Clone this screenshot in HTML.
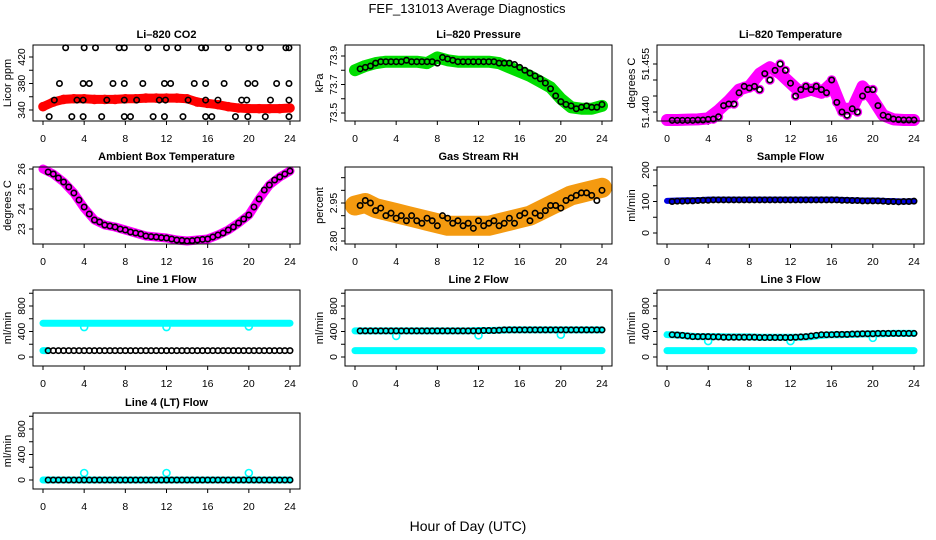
<!DOCTYPE html>
<html><head><meta charset="utf-8"><style>
body{margin:0;background:#fff}
svg{display:block;font-family:"Liberation Sans",sans-serif}
</style></head><body>
<svg id="c" width="936" height="540" viewBox="0 0 936 540">
<text x="467" y="13" font-size="13" text-anchor="middle">FEF_131013  Average Diagnostics</text>
<text x="468" y="531" font-size="14" text-anchor="middle">Hour of Day (UTC)</text>
</svg>
<script>
// ---------- data ----------
const hourly = [0,1,2,3,4,5,6,7,8,9,10,11,12,13,14,15,16,17,18,19,20,21,22,23,24];
const xTicks = [0,4,8,12,16,20,24];

const co2Band = [345,352,356,357,357,356,356,356,357,357,358,358,358,358,357,352,350,348,345,343,342,342,342,342,343];
const co2PtHours = [2.2,4,5.1,7.4,7.9,10.2,12,13.1,15.4,15.8,18,20,21.1,23.6,23.9, 1.6,3.9,4.5,6.8,7.9,9.7,11.8,12.4,14.7,15.8,17.6,19.9,20.6,22.7,23.9, 1.1,3.3,3.9,6.2,7.9,9.1,11.3,11.9,14.1,15.8,17,19.3,19.8,22.1,23.9, 0.6,2.8,3.9,5.7,7.9,8.5,10.7,11.8,13.6,15.8,16.4,18.7,19.9,21.6,23.9];
const co2PtValues = [434,434,434,434,434,434,434,434,434,434,434,434,434,434,434, 380,380,380,380,380,380,380,380,380,380,380,380,380,380,380, 355,355,355,355,355,355,355,355,355,355,355,355,355,355,355, 330,330,330,330,330,330,330,330,330,330,330,330,330,330,330];

const presBand = [73.80,73.83,73.85,73.86,73.86,73.86,73.86,73.85,73.89,73.87,73.86,73.86,73.86,73.86,73.85,73.82,73.79,73.76,73.72,73.68,73.60,73.54,73.53,73.53,73.55];
const presMean = [73.81,73.82,73.83,73.85,73.86,73.86,73.86,73.86,73.86,73.87,73.86,73.86,73.86,73.86,73.86,73.85,73.89,73.88,73.87,73.86,73.86,73.86,73.86,73.86,73.86,73.86,73.86,73.85,73.85,73.85,73.84,73.82,73.80,73.78,73.76,73.74,73.71,73.67,73.62,73.58,73.56,73.55,73.53,73.54,73.55,73.54,73.54,73.56];

const tempBand = [51.4375,51.4375,51.4376,51.4377,51.4380,51.4405,51.4435,51.4470,51.4480,51.4520,51.4540,51.4520,51.4490,51.4460,51.4470,51.4460,51.4490,51.4410,51.4410,51.4480,51.4440,51.4390,51.4377,51.4375,51.4375];
const tempMean = [51.4374,51.4374,51.4374,51.4374,51.4374,51.4375,51.4375,51.4377,51.4378,51.4385,51.4420,51.4425,51.4425,51.4460,51.4480,51.4475,51.4480,51.4470,51.4520,51.4500,51.4530,51.4550,51.4530,51.4490,51.4450,51.4470,51.4480,51.4470,51.4480,51.4470,51.4460,51.4500,51.4430,51.4400,51.4390,51.4410,51.4400,51.4450,51.4470,51.4470,51.4420,51.4390,51.4385,51.4378,51.4376,51.4375,51.4375,51.4375];

const ambBand = [26,25.75,25.35,24.8,24.05,23.45,23.2,23.1,22.95,22.8,22.65,22.6,22.55,22.45,22.4,22.45,22.5,22.7,22.95,23.3,23.7,24.5,25.2,25.6,25.9];
const ambMean = [25.85,25.75,25.55,25.35,25.1,24.8,24.45,24.1,23.75,23.45,23.35,23.2,23.15,23.1,23.0,22.95,22.85,22.8,22.75,22.65,22.62,22.6,22.57,22.55,22.5,22.45,22.43,22.4,22.42,22.45,22.48,22.5,22.6,22.7,22.8,22.95,23.1,23.3,23.5,23.7,24.1,24.5,24.95,25.2,25.45,25.6,25.75,25.9];

const rhBand = [2.94,2.95,2.93,2.92,2.91,2.90,2.89,2.88,2.87,2.86,2.86,2.86,2.86,2.86,2.87,2.88,2.89,2.90,2.92,2.94,2.96,2.98,2.99,3.00,3.01];
const rhMean = [2.94,2.96,2.95,2.92,2.93,2.90,2.91,2.89,2.90,2.88,2.90,2.88,2.87,2.89,2.88,2.86,2.90,2.89,2.87,2.88,2.86,2.87,2.85,2.88,2.86,2.87,2.88,2.86,2.87,2.89,2.87,2.90,2.91,2.88,2.91,2.90,2.92,2.94,2.94,2.93,2.96,2.97,2.98,2.99,2.99,2.98,2.96,3.00];

const sfBand = [102,103,104,104,106,106,106,106,106,106,106,106,106,106,106,106,106,105,104,103,103,102,101,100,101];
const sfMean = [100,101,101,102,102,103,104,104,105,105,105,105,105,105,105,105,105,105,105,105,105,105,105,105,105,105,105,105,105,105,105,105,105,104,104,103,103,102,102,102,102,101,100,100,99,100,100,101];

const dipHours = [4,12,20];

const l1Cyan = [530,530,530,530,530,530,530,530,530,530,530,530,530,530,530,530,530,530,530,530,530,530,530,530,530];
const l1CyanLow = [100,100];
const l1Dips = [470,470,480];
const l1Mean = [100,100,100,100,100,100,100,100,100,100,100,100,100,100,100,100,100,100,100,100,100,100,100,100,100,100,100,100,100,100,100,100,100,100,100,100,100,100,100,100,100,100,100,100,100,100,100,100];

const l2Cyan = [410,410,410,410,410,410,410,410,410,410,410,410,415,415,420,425,425,425,425,425,425,425,425,425,425];
const l2CyanLow = [100,100,100,100,100,100,100,100,100,100,100,100,100,100,100,100,100,100,100,100,100,100,100,100,100];
const l2Dips = [330,340,350];
const l2Mean = [410,410,410,410,410,410,410,410,410,410,410,410,410,410,410,410,410,410,410,410,410,410,410,410,415,415,415,420,425,425,425,425,425,425,425,425,425,425,425,425,425,425,425,425,425,425,425,425];

const l3Cyan = [350,345,330,320,320,320,315,315,315,310,310,310,310,310,320,340,350,350,355,360,365,365,370,370,370];
const l3CyanLow = [100,100,100,100,100,100,100,100,100,100,100,100,100,100,100,100,100,100,100,100,100,100,100,100,100];
const l3Dips = [250,250,300];
const l3Mean = [350,345,340,330,320,320,320,320,315,315,310,310,310,310,310,310,310,305,305,305,305,305,305,305,310,315,320,330,340,350,350,350,355,355,355,360,360,365,365,365,370,370,370,370,370,370,370,370];

const l4Cyan = [0,0,0,0,0,0,0,0,0,0,0,0,0,0,0,0,0,0,0,0,0,0,0,0,0];
const l4Dips = [110,110,110];
const l4Mean = [0,0,0,0,0,0,0,0,0,0,0,0,0,0,0,0,0,0,0,0,0,0,0,0,0,0,0,0,0,0,0,0,0,0,0,0,0,0,0,0,0,0,0,0,0,0,0,0];

// ---------- drawing ----------
const svg = document.getElementById('c');
const NS = 'http://www.w3.org/2000/svg';
const COLX = [43,355,667];
const ROWY = [[45,121],[167,244],[290,366],[413,489]];
const HPX = 247/24;
function mk(tag, attrs, parent){const e=document.createElementNS(NS,tag);for(const k in attrs)e.setAttribute(k,attrs[k]);(parent||svg).appendChild(e);return e;}

function panel(col,row,slug,title,ylab,vA,pA,vB,pB,ticks,labels){
  const g = mk('g',{});
  
  
  const x0 = COLX[col], top = ROWY[row][0], bot = ROWY[row][1];
  const left = x0-10, right = x0+257;
  const sx = h => x0 + h*HPX;
  const sy = v => pA + (v-vA)*(pB-pA)/(vB-vA);
  const t = mk('text',{x:(left+right)/2,y:top-7,'font-size':11,'font-weight':'bold','text-anchor':'middle'},g);
  t.textContent = title;
  
  
  const yl = mk('text',{x:0,y:0,'font-size':11,'text-anchor':'middle',transform:`translate(${left-22},${(top+bot)/2}) rotate(-90)`},g);
  yl.textContent = ylab;
  
  
  const xa = mk('g',{stroke:'#000','stroke-width':1},g);
  
  
  xTicks.forEach(h=>{
    mk('line',{x1:sx(h),x2:sx(h),y1:bot,y2:bot+4},xa);
    const l = mk('text',{x:sx(h),y:bot+21,'font-size':10.5,'text-anchor':'middle',stroke:'none'},xa);
    l.textContent = h;
  });
  const ya = mk('g',{stroke:'#000','stroke-width':1},g);
  
  
  ticks.forEach((v,i)=>{
    const y = sy(v);
    mk('line',{x1:left-4,x2:left,y1:y,y2:y},ya);
    if(labels[i]!==''){
      const l = mk('text',{x:0,y:0,'font-size':10.5,'text-anchor':'middle',stroke:'none',transform:`translate(${left-8},${y}) rotate(-90)`},ya);
      l.textContent = labels[i];
    }
  });
  const data = mk('g',{},g);
  mk('rect',{x:left,y:top,width:right-left,height:bot-top,fill:'none',stroke:'#000','stroke-width':1},g);
  return {g:data,sx,sy,slug};
}
function band(p,hours,vals,color,w,name){
  const pts = hours.slice(0,vals.length).map((h,i)=>p.sx(h)+','+p.sy(vals[i])).join(' ');
  const e = mk('polyline',{points:pts,fill:'none',stroke:color,'stroke-width':w,'stroke-linecap':'round','stroke-linejoin':'round'},p.g);
  
  
}
function pts(p,hours,vals,color,name,r){
  const gg = mk('g',{fill:'none',stroke:color,'stroke-width':1.6},p.g);
  
  
  vals.forEach((v,i)=>{
    const c = mk('circle',{cx:p.sx(hours[i]),cy:p.sy(v),r:r||2.7},gg);
    
    
  });
}
const halfHours = l1Mean.map((_,i)=>(i+1)*0.5);

let p = panel(0,0,'co2','Li\u2013820 CO2','Licor ppm',340,110,420,57,[340,360,380,400,420],['340','','380','','420']);
band(p,hourly,co2Band,'#f00',9,'raw-band'); pts(p,hourly,co2Band,'#f00','raw-points',4);
pts(p,co2PtHours,co2PtValues,'#000','mean-points');
p = panel(1,0,'pressure','Li\u2013820 Pressure','kPa',73.5,113,73.9,56,[73.5,73.6,73.7,73.8,73.9],['73.5','','73.7','','73.9']);
band(p,hourly,presBand,'#0d0',12,'raw-band');
pts(p,halfHours,presMean,'#000','mean-points');
p = panel(2,0,'temperature','Li\u2013820 Temperature','degrees C',51.440,112,51.455,64,[51.440,51.445,51.450,51.455],['51.440','','','51.455']);
band(p,hourly,tempBand,'#f0f',12,'raw-band');
pts(p,halfHours,tempMean,'#f0f','raw-points',4);
pts(p,halfHours,tempMean,'#000','mean-points');
p = panel(0,1,'ambient-temp','Ambient Box Temperature','degrees C',26,169,23,229,[23,24,25,26],['23','24','25','26']);
band(p,hourly,ambBand,'#f0f',9,'raw-band');
pts(p,halfHours,ambMean,'#000','mean-points');
p = panel(1,1,'gas-rh','Gas Stream RH','percent',2.95,203,2.80,241,[2.80,2.85,2.90,2.95,3.00,3.05],['2.80','','','2.95','','']);
band(p,hourly,rhBand,'#f49a10',20,'raw-band');
pts(p,halfHours,rhMean,'#000','mean-points');
p = panel(2,1,'sample-flow','Sample Flow','ml/min',200,170,0,233,[0,50,100,150,200],['0','','100','','200']);
band(p,hourly,sfBand,'#0000e0',6,'raw-band');
pts(p,halfHours,sfMean,'#000','mean-points');
const fT=[0,200,400,600,800,1000], fL=['0','','400','','800',''];
p = panel(0,2,'line1-flow','Line 1 Flow','ml/min',0,357,800,306,fT,fL);
band(p,hourly,l1Cyan,'#0ff',7,'cyan-band'); band(p,[0,0.4],l1CyanLow,'#0ff',7,'cyan-low');
pts(p,dipHours,l1Dips,'#0ff','cyan-dips',3.5);
pts(p,halfHours,l1Mean,'#000','mean-points');
p = panel(1,2,'line2-flow','Line 2 Flow','ml/min',0,357,800,306,fT,fL);
band(p,hourly,l2CyanLow,'#0ff',7,'cyan-low'); band(p,hourly,l2Cyan,'#0ff',7,'cyan-band');
pts(p,dipHours,l2Dips,'#0ff','cyan-dips',3.5);
pts(p,halfHours,l2Mean,'#000','mean-points');
p = panel(2,2,'line3-flow','Line 3 Flow','ml/min',0,357,800,306,fT,fL);
band(p,hourly,l3CyanLow,'#0ff',7,'cyan-low'); band(p,hourly,l3Cyan,'#0ff',7,'cyan-band');
pts(p,dipHours,l3Dips,'#0ff','cyan-dips',3.5);
pts(p,halfHours,l3Mean,'#000','mean-points');
p = panel(0,3,'line4-flow','Line 4 (LT) Flow','ml/min',0,480,800,429,fT,fL);
band(p,hourly,l4Cyan,'#0ff',7,'cyan-band');
pts(p,dipHours,l4Dips,'#0ff','cyan-dips',3.5);
pts(p,halfHours,l4Mean,'#000','mean-points');
</script>
</body></html>
